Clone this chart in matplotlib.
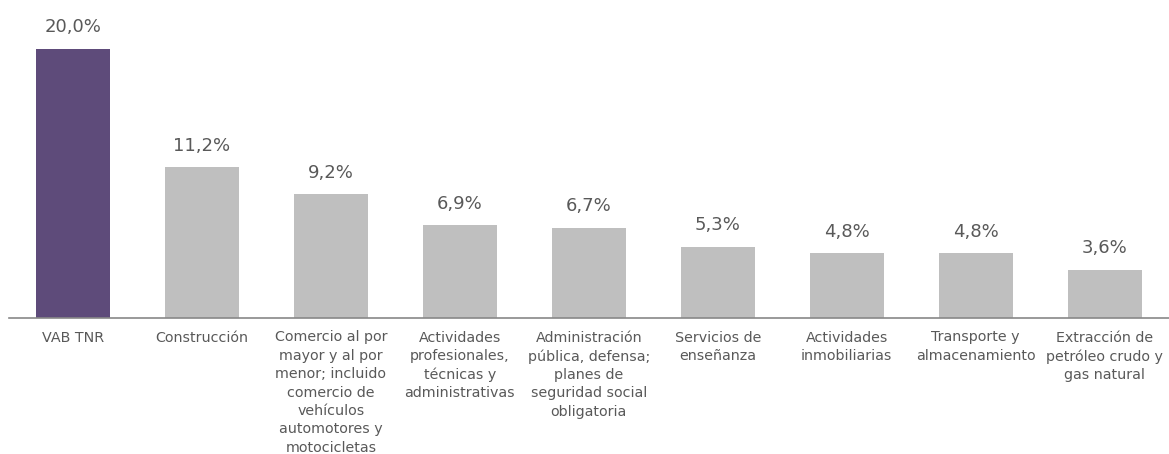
import matplotlib
matplotlib.use("Agg")
import matplotlib.pyplot as plt

categories = [
    "VAB TNR",
    "Construcción",
    "Comercio al por\nmayor y al por\nmenor; incluido\ncomercio de\nvehículos\nautomotores y\nmotocicletas",
    "Actividades\nprofesionales,\ntécnicas y\nadministrativas",
    "Administración\npública, defensa;\nplanes de\nseguridad social\nobligatoria",
    "Servicios de\nenseñanza",
    "Actividades\ninmobiliarias",
    "Transporte y\nalmacenamiento",
    "Extracción de\npetróleo crudo y\ngas natural",
]
values = [20.0, 11.2, 9.2, 6.9, 6.7, 5.3, 4.8, 4.8, 3.6]
value_labels = ["20,0%", "11,2%", "9,2%", "6,9%", "6,7%", "5,3%", "4,8%", "4,8%", "3,6%"]

plt.rcParams['font.family'] = ['DejaVu Sans']
text_color = "#595959"

fig = plt.figure(figsize=(11.69, 4.54), dpi=100)
ax = fig.add_axes([8.5 / 1169, 1 - 318 / 454, 1 - 8.5 / 1169, (318 - 22) / 454])

colors = ["#5E4B7A"] + ["#BFBFBF"] * (len(values) - 1)
x = list(range(len(values)))
bars = ax.bar(x, values, width=0.574, color=colors, zorder=2)

for xi, v, lab in zip(x, values, value_labels):
    ax.annotate(lab, (xi, v), xytext=(0, 9), textcoords="offset points",
                ha="center", va="bottom", fontsize=13, color=text_color)

ax.set_xlim(-0.5, len(values) - 0.5)
ax.set_ylim(0, 22)
ax.set_xticks(x)
ax.set_xticklabels(categories, fontsize=10.3, color=text_color, linespacing=1.4)
ax.tick_params(axis="x", length=0, pad=9)
ax.set_yticks([])
for s in ["top", "right", "left"]:
    ax.spines[s].set_visible(False)
ax.spines["bottom"].set_color("#888888")
ax.spines["bottom"].set_linewidth(1.2)
ax.patch.set_alpha(0)

fig.savefig("out.png", dpi=100)
